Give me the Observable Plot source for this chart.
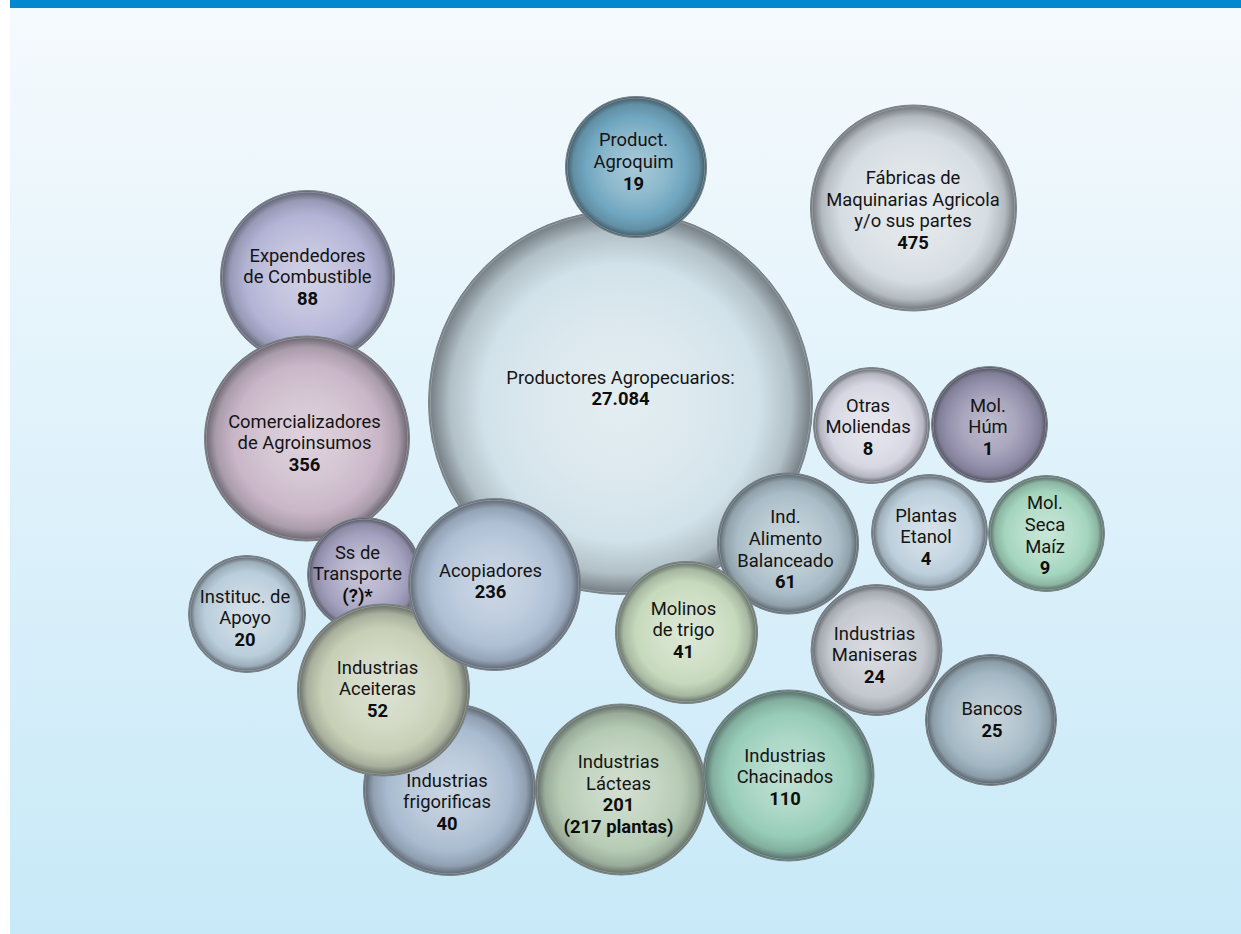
<!DOCTYPE html>
<html><head><meta charset="utf-8">
<script src="https://cdn.jsdelivr.net/npm/d3@7"></script>
<script src="https://cdn.jsdelivr.net/npm/@observablehq/plot@0.6"></script>
<style>
html,body{margin:0;padding:0;background:#fff;}
#panel{position:absolute;left:10px;top:0;width:1231px;height:934px;background:linear-gradient(#f5fafd,#c8e9f8);border-top:8px solid #0088d1;box-sizing:border-box;}
#chart{position:absolute;left:0;top:0;}
</style></head><body>
<div id="panel"></div><div id="chart"></div>
<script>
// Categories (drawing order) and their values
const names = [
  "Productores Agropecuarios:",
  "Expendedores\nde Combustible",
  "Comercializadores\nde Agroinsumos",
  "Product.\nAgroquim",
  "Fábricas de\nMaquinarias Agricola\ny/o sus partes",
  "Otras\nMoliendas",
  "Mol.\nHúm",
  "Plantas\nEtanol",
  "Mol.\nSeca\nMaíz",
  "Instituc. de\nApoyo",
  "Ss de\nTransporte",
  "Ind.\nAlimento\nBalanceado",
  "Molinos\nde trigo",
  "Industrias\nfrigorificas",
  "Industrias\nAceiteras",
  "Acopiadores",
  "Industrias\nManiseras",
  "Bancos",
  "Industrias\nLácteas",
  "Industrias\nChacinados"
];
const values = [
  "27.084", "88", "356", "19", "475", "8", "1", "4", "9", "20",
  "(?)*", "61", "41", "40", "52", "236", "24", "25", "201\n(217 plantas)", "110"
];

// Layout (bubble centres / radii / label centres, in page pixels)
const cx = [620, 307, 306.5, 635.5, 913, 871, 989, 929, 1046, 246.5, 364, 787.5, 686, 449, 383, 494, 876, 990.5, 620.5, 788];
const cy = [402, 277, 438, 166.5, 207.5, 425, 424, 532, 533, 613.5, 574, 543, 632, 789, 689.5, 584, 649.5, 719.5, 789, 775];
const radius = [192, 87, 102.5, 70.5, 103, 58, 58, 58, 58, 58.5, 57, 70.5, 71, 86, 86, 86, 65.5, 65.5, 85.5, 85.5];
const lx = [620, 307, 304, 633, 912.5, 867.5, 987.5, 925.5, 1044.5, 244.5, 357, 785, 683, 446.5, 377, 490, 874, 991.5, 618, 784.5];
const ly = [388, 277, 443, 161.5, 210, 427, 427, 537, 535.5, 618, 574, 549.5, 630, 802, 689, 581, 655, 719.5, 794, 777];

// Styles
const baseColors = ["#d2e2ea", "#b3b3d6", "#c9b6c8", "#6fa6bf", "#d6dde2", "#d7d7e3", "#9591ad", "#bccfdc", "#a3d5bd", "#b9cddb",
  "#a3a0bf", "#a9bcc7", "#c5d9bb", "#a9bbd0", "#c7cfb6", "#aebfd5", "#c3c7ce", "#a1b6c3", "#b5cab3", "#97cdb8"];
const FONT = 18.4, LH = 21.7;

const rows = names.map((n, i) => ({i, name: n, value: values[i], cx: cx[i], cy: cy[i], r: radius[i], color: baseColors[i]}));
const lines = [];
rows.forEach((d, i) => {
  const nl = d.name.split("\n"), vl = d.value.split("\n");
  const all = nl.concat(vl), N = all.length;
  all.forEach((t, j) => lines.push({t, bold: j >= nl.length, x: lx[i], y: ly[i] + (j - (N - 1) / 2) * LH}));
});

function defs() {
  const g = d3.create("svg:defs");
  rows.forEach(d => {
    const base = d.color;
    const light = d3.interpolateRgb(base, "#ffffff")(0.4);
    const midL = d3.interpolateRgb(light, base)(0.5);
    const d1 = d3.interpolateRgb(base, "#2e3338")(0.2);
    const dark = d3.interpolateRgb(base, "#2e3338")(0.55);
    const ringA = (d.r - 2.6) / d.r, ringB = (d.r - 1.8) / d.r, ringC = (d.r - 1) / d.r;
    const rg = g.append("radialGradient").attr("id", "g" + d.i).attr("cx", "50%").attr("cy", "50%").attr("r", "50%");
    const stops = [[0, light], [0.45, midL], [0.72, base], [0.89, d1], [ringA, dark],
      [ringB, d3.interpolateRgb(dark, "#ffffff")(0.22)], [ringC, dark], [1, dark]];
    stops.forEach(([o, c]) => rg.append("stop").attr("offset", o).attr("stop-color", c));
  });
  return g.node();
}

const chart = Plot.plot({
  width: 1241, height: 934, margin: 0,
  x: {domain: [0, 1241], range: [0, 1241], axis: null},
  y: {domain: [0, 934], range: [0, 934], axis: null},
  r: {type: "identity"},
  color: {type: "identity"},
  style: {background: "transparent", fontFamily: "Roboto, 'Noto Sans', sans-serif"},
  marks: [
    defs,
    Plot.dot(rows, {x: "cx", y: "cy", r: "r", fill: d => `url(#g${d.i})`, stroke: "#7a8288", strokeWidth: 1, sort: null}),
    Plot.text(lines.filter(l => !l.bold), {x: "x", y: "y", text: "t", fontSize: FONT, fill: "#141414"}),
    Plot.text(lines.filter(l => l.bold), {x: "x", y: "y", text: "t", fontSize: FONT, fontWeight: "bold", fill: "#0d0d0d"})
  ]
});
document.getElementById("chart").appendChild(chart);
</script>
</body></html>
